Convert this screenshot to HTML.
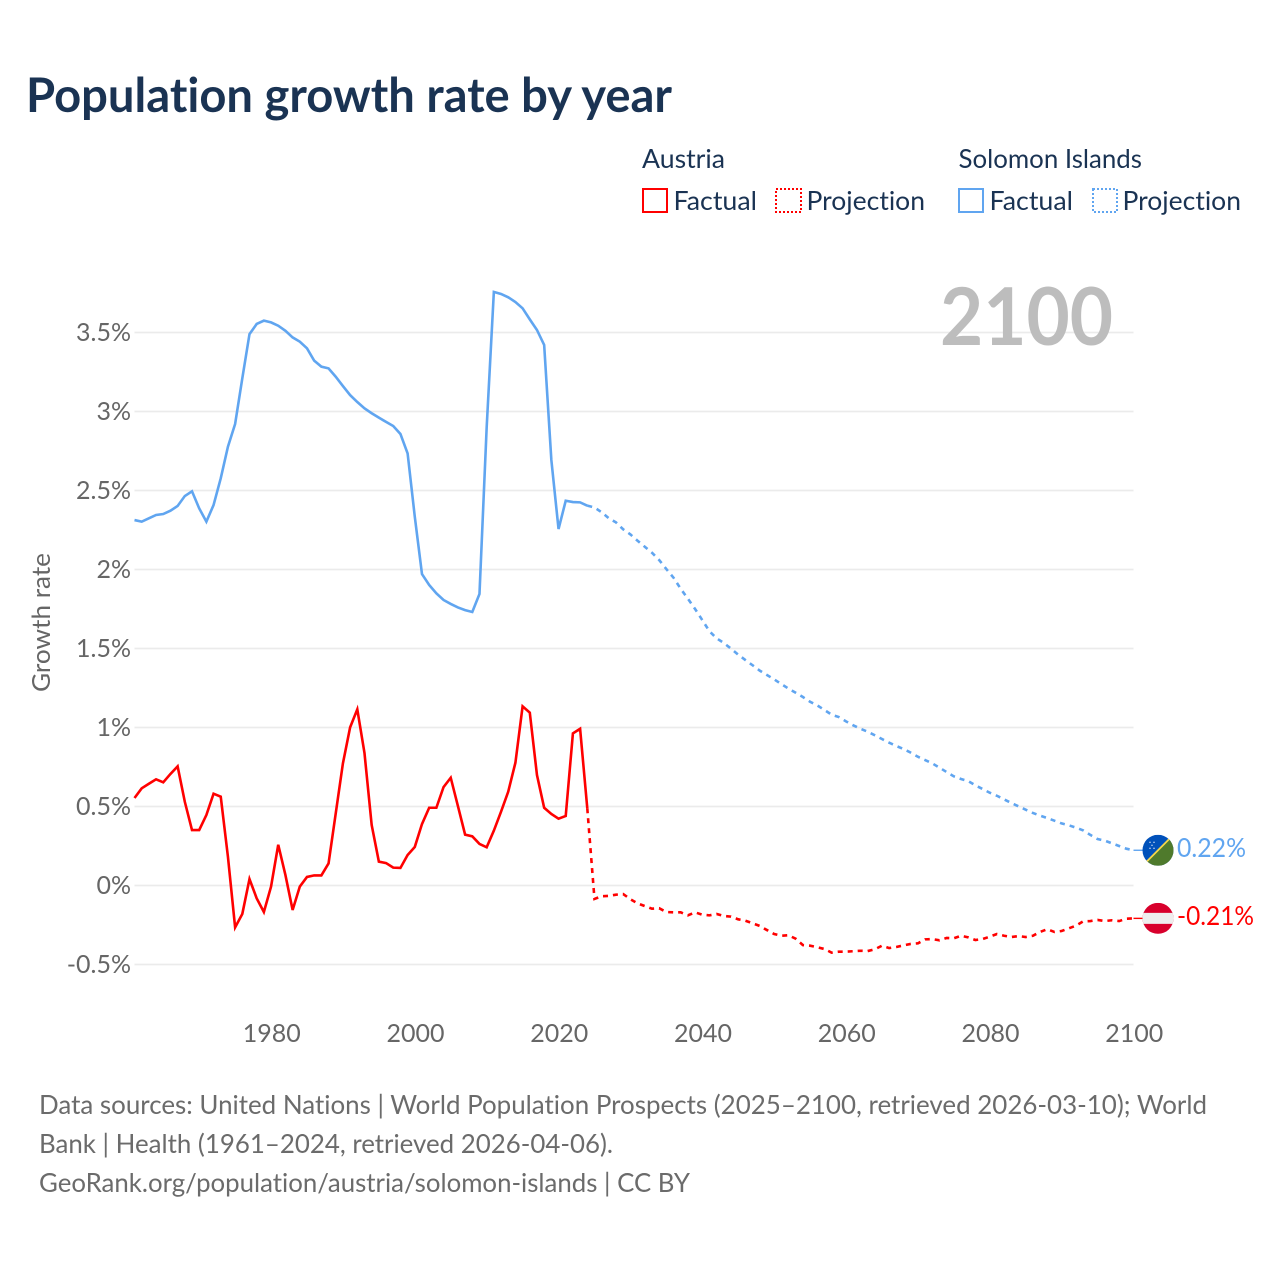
<!DOCTYPE html>
<html lang="en">
<head>
<meta charset="utf-8">
<title>Population growth rate by year</title>
<style>
html,body{margin:0;padding:0;background:#fff;width:1280px;height:1280px;overflow:hidden}
svg{display:block}
text{font-family:"Lato","Carlito","Liberation Sans",sans-serif;font-variant-ligatures:none;font-feature-settings:"liga" 0,"clig" 0}
</style>
</head>
<body>
<svg id="chart" xmlns="http://www.w3.org/2000/svg" width="1280" height="1280" viewBox="0 0 1280 1280">
<rect x="0" y="0" width="1280" height="1280" fill="#fff"/>
<text x="26" y="112" font-size="48" font-weight="700" fill="#1a3353" textLength="646" lengthAdjust="spacingAndGlyphs">Population growth rate by year</text>

<g font-size="26" fill="#1a3353">
<text x="642" y="168" textLength="83" lengthAdjust="spacingAndGlyphs">Austria</text>
<text x="958.5" y="168" textLength="183.5" lengthAdjust="spacingAndGlyphs">Solomon Islands</text>
<g>
<rect x="643" y="189" width="24" height="23" fill="none" stroke="#ff0000" stroke-width="2"/>
<text x="673.5" y="210" textLength="83.5" lengthAdjust="spacingAndGlyphs">Factual</text>
</g>
<g>
<rect x="776" y="189" width="25" height="23" fill="none" stroke="#ff0000" stroke-width="2" stroke-dasharray="2 2"/>
<text x="806.5" y="210" textLength="118.5" lengthAdjust="spacingAndGlyphs">Projection</text>
</g>
<g>
<rect x="959" y="189" width="24" height="23" fill="none" stroke="#60a5f0" stroke-width="2"/>
<text x="989.5" y="210" textLength="83.5" lengthAdjust="spacingAndGlyphs">Factual</text>
</g>
<g>
<rect x="1093" y="189" width="24" height="23" fill="none" stroke="#60a5f0" stroke-width="2" stroke-dasharray="2 2"/>
<text x="1122.5" y="210" textLength="118.5" lengthAdjust="spacingAndGlyphs">Projection</text>
</g>
</g>

<g id="grid"></g>
<g id="yticks" font-size="25" fill="#666"></g>
<g id="xticks" font-size="25" fill="#666"></g>
<text transform="translate(50,622.5) rotate(-90)" text-anchor="middle" font-size="25" fill="#666" textLength="139" lengthAdjust="spacingAndGlyphs">Growth rate</text>
<text x="940" y="345" font-size="80" font-weight="700" fill="#bdbdbd" textLength="173" lengthAdjust="spacingAndGlyphs">2100</text>

<g id="series"></g>
<g id="ends"></g>

<g font-size="26" fill="#6b6b6b">
<text x="39" y="1114" textLength="1168" lengthAdjust="spacingAndGlyphs">Data sources: United Nations | World Population Prospects (2025–2100, retrieved 2026-03-10); World</text>
<text x="39" y="1153" textLength="574" lengthAdjust="spacingAndGlyphs">Bank | Health (1961–2024, retrieved 2026-04-06).</text>
<text x="39" y="1192" textLength="651" lengthAdjust="spacingAndGlyphs">GeoRank.org/population/austria/solomon-islands | CC BY</text>
</g>
</svg>
<script>
const FIRST_YEAR = 1961;
const LAST_YEAR = 2100;
const PROJECTION_START_YEAR = 2024;
const yTickValues = [-0.5, 0, 0.5, 1, 1.5, 2, 2.5, 3, 3.5];
const yTickLabels = ['-0.5%', '0%', '0.5%', '1%', '1.5%', '2%', '2.5%', '3%', '3.5%'];
const xTickYears = [1980, 2000, 2020, 2040, 2060, 2080, 2100];
const solomonFactual = [
2.313,2.303,2.324,2.345,2.351,2.372,2.402,2.465,2.495,2.387,
2.303,2.408,2.577,2.777,2.921,3.21,3.49,3.554,3.575,3.564,
3.543,3.511,3.469,3.442,3.4,3.322,3.284,3.273,3.22,3.161,
3.104,3.06,3.02,2.989,2.961,2.934,2.908,2.858,2.735,2.334,
1.971,1.902,1.849,1.807,1.782,1.76,1.743,1.731,1.845,2.9,
3.757,3.744,3.723,3.693,3.653,3.583,3.516,3.421,2.693,2.256,
2.435,2.427,2.425,2.404];
const solomonProjection = [
2.404,2.393,2.362,2.324,2.298,2.254,2.222,2.182,2.144,2.106,2.06,
2.003,1.948,1.878,1.815,1.75,1.68,1.609,1.564,1.535,1.499,
1.461,1.427,1.394,1.36,1.332,1.305,1.275,1.246,1.22,1.193,
1.163,1.14,1.111,1.081,1.066,1.039,1.014,0.992,0.974,0.951,
0.927,0.904,0.883,0.864,0.841,0.815,0.794,0.773,0.746,0.718,
0.691,0.674,0.661,0.634,0.611,0.587,0.568,0.545,0.522,0.501,
0.48,0.459,0.442,0.427,0.41,0.393,0.381,0.366,0.349,0.32,
0.294,0.284,0.267,0.25,0.233,0.223];
const austriaFactual = [
0.554,0.615,0.644,0.672,0.653,0.706,0.754,0.53,0.351,0.351,
0.446,0.581,0.562,0.182,-0.265,-0.18,0.041,-0.081,-0.168,-0.007,
0.258,0.066,-0.155,-0.007,0.054,0.064,0.064,0.14,0.457,0.773,
1.001,1.115,0.838,0.383,0.151,0.142,0.113,0.111,0.193,0.244,
0.389,0.492,0.492,0.623,0.682,0.503,0.322,0.311,0.263,0.242,
0.347,0.467,0.594,0.777,1.134,1.094,0.699,0.492,0.453,0.423,
0.44,0.963,0.992,0.489];
const austriaProjection = [
0.489,-0.085,-0.068,-0.066,-0.058,-0.054,-0.087,-0.113,-0.13,-0.147,-0.144,
-0.168,-0.17,-0.17,-0.189,-0.17,-0.185,-0.189,-0.18,-0.193,-0.197,
-0.214,-0.223,-0.239,-0.256,-0.282,-0.307,-0.318,-0.315,-0.337,-0.377,
-0.381,-0.391,-0.402,-0.425,-0.419,-0.419,-0.416,-0.413,-0.415,-0.404,
-0.381,-0.396,-0.389,-0.379,-0.37,-0.366,-0.341,-0.339,-0.347,-0.332,
-0.334,-0.318,-0.328,-0.345,-0.339,-0.324,-0.307,-0.318,-0.326,-0.32,
-0.326,-0.318,-0.294,-0.277,-0.294,-0.288,-0.271,-0.254,-0.227,-0.225,
-0.218,-0.225,-0.22,-0.225,-0.21,-0.208];
const solomonEndLabel = '0.22%';
const austriaEndLabel = '-0.21%';

const NS = 'http://www.w3.org/2000/svg';
const PLOT_LEFT = 134.5;
const PLOT_RIGHT = 1133.5;
const BLUE = '#60a5f0';
const RED = '#ff0000';
function xScale(year) { return PLOT_LEFT + (year - FIRST_YEAR) * (PLOT_RIGHT - PLOT_LEFT) / (LAST_YEAR - FIRST_YEAR); }
function yScale(v) { return 885.5 - v * 158; }
function make(tag, attrs, parent) {
  const el = document.createElementNS(NS, tag);
  for (const k in attrs) el.setAttribute(k, attrs[k]);
  parent.appendChild(el);
  return el;
}
function pathFrom(values, startYear) {
  return values.map(function (v, i) {
    return (i ? 'L' : 'M') + xScale(startYear + i).toFixed(2) + ' ' + yScale(v).toFixed(2);
  }).join(' ');
}

const grid = document.getElementById('grid');
const yticks = document.getElementById('yticks');
const xticks = document.getElementById('xticks');
const series = document.getElementById('series');
const ends = document.getElementById('ends');

yTickValues.forEach(function (v, i) {
  const line = make('line', {x1: PLOT_LEFT, x2: PLOT_RIGHT, y1: yScale(v), y2: yScale(v), stroke: '#ebebeb', 'stroke-width': 1.8}, grid);
  
  
  const label = make('text', {x: 131, y: yScale(v) + 8.5, 'text-anchor': 'end'}, yticks);
  label.textContent = yTickLabels[i];
  
  
});

xTickYears.forEach(function (year) {
  const label = make('text', {x: xScale(year) + 0.7, y: 1042, 'text-anchor': 'middle'}, xticks);
  label.textContent = String(year);
  
  
});

const solid = {fill: 'none', 'stroke-width': 2.6, 'stroke-linejoin': 'miter'};
const lineSolomonFactual = make('path', Object.assign({d: pathFrom(solomonFactual, FIRST_YEAR), stroke: BLUE}, solid), series);


const lineSolomonProjection = make('path', Object.assign({d: pathFrom(solomonProjection, PROJECTION_START_YEAR), stroke: BLUE, 'stroke-dasharray': '5 5'}, solid), series);


const lineAustriaFactual = make('path', Object.assign({d: pathFrom(austriaFactual, FIRST_YEAR), stroke: RED}, solid), series);


const lineAustriaProjection = make('path', Object.assign({d: pathFrom(austriaProjection, PROJECTION_START_YEAR), stroke: RED, 'stroke-dasharray': '5 5'}, solid), series);



const FLAG_X = 1158;
const FLAG_R = 15.5;
const defs = make('defs', {}, ends);
const solomonY = yScale(solomonProjection[solomonProjection.length - 1]);
const austriaY = yScale(austriaProjection[austriaProjection.length - 1]);
const clipS = make('clipPath', {id: 'clip-solomon'}, defs);
make('circle', {cx: FLAG_X, cy: solomonY, r: FLAG_R}, clipS);
const clipA = make('clipPath', {id: 'clip-austria'}, defs);
make('circle', {cx: FLAG_X, cy: austriaY, r: FLAG_R}, clipA);

const connS = make('line', {x1: PLOT_RIGHT, x2: FLAG_X - FLAG_R, y1: solomonY, y2: solomonY, stroke: BLUE, 'stroke-width': 1.4}, ends);


const connA = make('line', {x1: PLOT_RIGHT, x2: FLAG_X - FLAG_R, y1: austriaY, y2: austriaY, stroke: RED, 'stroke-width': 1.4}, ends);



const flagS = make('g', {'clip-path': 'url(#clip-solomon)'}, ends);


make('rect', {x: FLAG_X - FLAG_R, y: solomonY - FLAG_R, width: FLAG_R * 2, height: FLAG_R * 2, fill: '#0051ba'}, flagS);
make('path', {d: 'M' + (FLAG_X + FLAG_R) + ' ' + (solomonY - FLAG_R) + ' L' + (FLAG_X + FLAG_R) + ' ' + (solomonY + FLAG_R) + ' L' + (FLAG_X - FLAG_R) + ' ' + (solomonY + FLAG_R) + ' Z', fill: '#4f7a2c'}, flagS);
make('line', {x1: FLAG_X - FLAG_R, y1: solomonY + FLAG_R, x2: FLAG_X + FLAG_R, y2: solomonY - FLAG_R, stroke: '#f6d84a', 'stroke-width': 1.8}, flagS);
[[-8, -8], [-4, -8], [-6, -5], [-8, -2], [-4, -2]].forEach(function (p) {
  make('circle', {cx: FLAG_X + p[0], cy: solomonY + p[1], r: 0.7, fill: '#e6eefb'}, flagS);
});

const flagA = make('g', {'clip-path': 'url(#clip-austria)'}, ends);


make('rect', {x: FLAG_X - FLAG_R, y: austriaY - FLAG_R, width: FLAG_R * 2, height: FLAG_R * 2, fill: '#d8002c'}, flagA);
make('rect', {x: FLAG_X - FLAG_R, y: austriaY - 5.5, width: FLAG_R * 2, height: 11, fill: '#eeeeee'}, flagA);

const labelS = make('text', {x: 1177, y: solomonY + 6.5, 'font-size': 26, fill: BLUE, textLength: 69, lengthAdjust: 'spacingAndGlyphs'}, ends);
labelS.textContent = solomonEndLabel;


const labelA = make('text', {x: 1177, y: austriaY + 6.5, 'font-size': 26, fill: RED, textLength: 77, lengthAdjust: 'spacingAndGlyphs'}, ends);
labelA.textContent = austriaEndLabel;


</script>
</body>
</html>
